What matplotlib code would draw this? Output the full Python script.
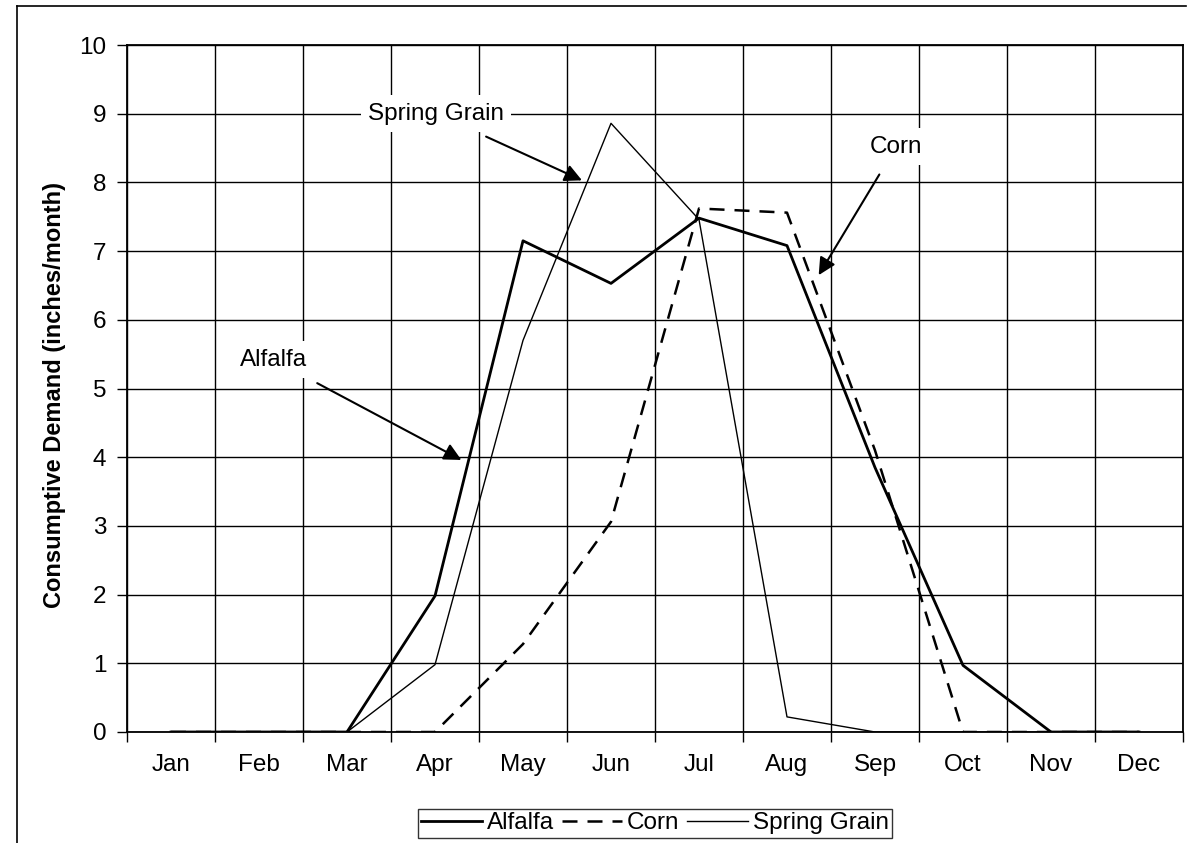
import matplotlib.pyplot as plt
from matplotlib.lines import Line2D
from matplotlib.ticker import FixedLocator, NullFormatter

plt.rcParams["font.family"] = ["Liberation Sans", "DejaVu Sans"]

months = ["Jan", "Feb", "Mar", "Apr", "May", "Jun",
          "Jul", "Aug", "Sep", "Oct", "Nov", "Dec"]
alfalfa = [0, 0, 0, 1.98, 7.15, 6.53, 7.48, 7.08, 3.85, 0.97, 0, 0]
corn = [0, 0, 0, 0, 1.28, 3.06, 7.62, 7.56, 4.1, 0, 0, 0]
spring_grain = [0, 0, 0, 0.98, 5.7, 8.86, 7.46, 0.22, 0, 0, 0, 0]

# label, text position, arrow tip (data units; x = month index + 0.5)
notes = [
    ("Spring Grain", (3.51, 9.0), (5.17, 8.03)),
    ("Corn", (8.74, 8.52), (7.86, 6.65)),
    ("Alfalfa", (1.66, 5.42), (3.80, 3.96)),
]

FS = 17.5
W, H = 1189, 843
fig = plt.figure(figsize=(W / 100, H / 100), dpi=100)
ax = fig.add_axes([127 / W, 1 - 732 / H, 1056 / W, 687 / H])

x = [i + 0.5 for i in range(len(months))]
ax.plot(x, alfalfa, color="black", lw=2.0, label="Alfalfa")
ax.plot(x, corn, color="black", lw=1.8, ls=(0, (6, 4)), label="Corn")
ax.plot(x, spring_grain, color="black", lw=1.0, label="Spring Grain")

ax.set_xlim(0, 12)
ax.set_ylim(0, 10)
ax.set_yticks(range(0, 11))
ax.xaxis.set_major_locator(FixedLocator(range(0, 13)))
ax.xaxis.set_major_formatter(NullFormatter())
ax.xaxis.set_minor_locator(FixedLocator(x))
ax.set_xticklabels(months, minor=True)
ax.tick_params(axis="x", which="major", length=7, width=1, direction="out")
ax.tick_params(axis="x", which="minor", length=0, pad=16, labelsize=FS)
ax.tick_params(axis="y", length=7, width=1, direction="out", pad=8, labelsize=FS)
ax.grid(True, which="major", color="black", lw=1.0)
ax.set_axisbelow(True)
for s in ax.spines.values():
    s.set_linewidth(1.3)

ax.set_ylabel("Consumptive Demand (inches/month)", fontsize=17, fontweight="bold")
ax.yaxis.set_label_coords(-0.058, 0.49)

for label, xy_text, xy_tip in notes:
    ax.annotate(label, xy=xy_tip, xytext=xy_text, ha="center", va="center",
                fontsize=FS, zorder=5,
                bbox=dict(boxstyle="square,pad=0.3", fc="white", ec="none"),
                arrowprops=dict(arrowstyle="-|>", color="black", lw=1.5,
                                mutation_scale=26, shrinkA=8, shrinkB=0))

leg = fig.legend(loc="lower center", bbox_to_anchor=(655 / W, 5 / H), ncol=3,
                 fontsize=FS, frameon=True, fancybox=False, edgecolor="black",
                 handlelength=2.5, handletextpad=0.2, columnspacing=0.3,
                 borderpad=0.15, borderaxespad=0)
leg.get_frame().set_linewidth(1.0)

# outer chart border (top and left)
fig.add_artist(Line2D([17 / W, 17 / W], [0, 1 - 6 / H], color="black", lw=1.2,
                      transform=fig.transFigure))
fig.add_artist(Line2D([17 / W, 1186 / W], [1 - 6 / H, 1 - 6 / H], color="black",
                      lw=1.2, transform=fig.transFigure))

fig.savefig("out.png", dpi=100)
